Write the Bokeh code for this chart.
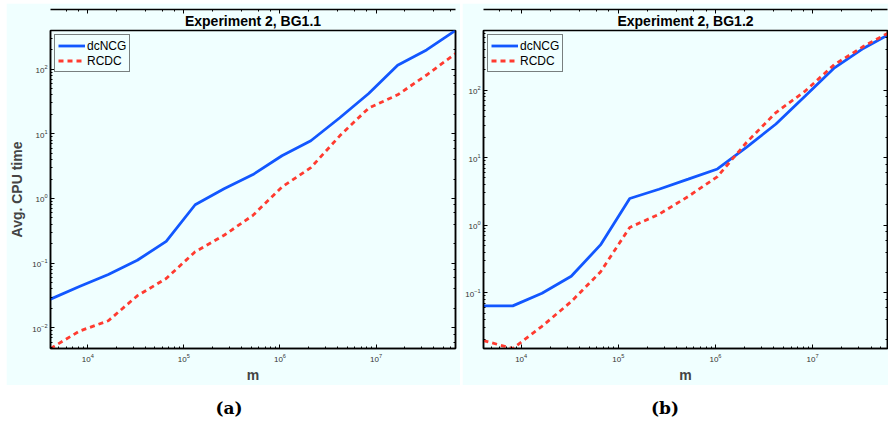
from bokeh.plotting import figure
from bokeh.models import (LogAxis, Legend, LegendItem, Spacer, Div, Range1d,
                          LogTicker, Title, CustomJSTickFormatter)
from bokeh.layouts import row, column
from bokeh.embed import file_html
from bokeh.resources import INLINE

# ---------------- data ----------------
m = [2 ** k for k in range(12, 27)]

dcncg_a = [0.0278, 0.0435, 0.067, 0.111, 0.217, 0.80, 1.41, 2.34, 4.57, 7.8,
           17.7, 41.9, 115, 198, 395]
rcdc_a = [0.0048, 0.0089, 0.0129, 0.0313, 0.058, 0.15, 0.27, 0.55, 1.5, 3.0,
          9.3, 25, 40, 81, 174]

dcncg_b = [0.0637, 0.0637, 0.098, 0.175, 0.51, 2.48, 3.4, 4.8, 6.8, 14.3,
           31.5, 81.7, 214, 418, 720]
rcdc_b = [0.0195, 0.0149, 0.0318, 0.0738, 0.203, 0.925, 1.45, 2.66, 5.25,
          16.9, 46.6, 97, 240, 446, 764]

titles = ["Experiment 2, BG1.1", "Experiment 2, BG1.2"]
series_names = ["dcNCG", "RCDC"]
captions = ["(a)", "(b)"]

BG = "#F0FFFF"
BLUE = "#1257FF"
RED = "#FF3B30"
FONT = "Liberation Sans"


def style_axis(ax, labels=True):
    ax.axis_line_color = "black"
    ax.axis_line_width = 1.5
    ax.major_tick_in = 4
    ax.major_tick_out = 0
    ax.minor_tick_in = 2
    ax.minor_tick_out = 0
    ax.major_tick_line_color = "black"
    ax.minor_tick_line_color = "black"
    ax.major_label_text_font = FONT
    ax.major_label_text_color = "#333333"
    if labels:
        ax.major_label_text_font_size = "8px"
        ax.major_label_standoff = 3
    else:
        ax.formatter = CustomJSTickFormatter(code="return ''")
        ax.major_label_text_font_size = "1px"
        ax.major_label_standoff = 0


def make_panel(title, blue, red, width, x_end, min_left, min_right, ylabel):
    ys = blue + red
    p = figure(width=width, height=382, x_axis_type="log", y_axis_type="log",
               x_range=Range1d(m[0], x_end),
               y_range=Range1d(min(ys), max(ys)),
               output_backend="svg", toolbar_location=None,
               background_fill_color=BG, border_fill_color=BG,
               min_border_left=min_left, min_border_right=min_right,
               min_border_top=27, min_border_bottom=34, margin=0)
    p.grid.visible = False
    p.outline_line_color = "black"
    p.outline_line_width = 1.5

    t = Title(text=title, align="center", text_font=FONT,
              text_font_size="14px", text_font_style="bold",
              text_color="black", standoff=3)
    p.add_layout(t, "above")

    style_axis(p.xaxis[0])
    style_axis(p.yaxis[0])
    p.xaxis.axis_label = "m"
    p.xaxis.axis_label_text_font = FONT
    p.xaxis.axis_label_text_font_size = "14px"
    p.xaxis.axis_label_text_font_style = "bold"
    p.xaxis.axis_label_standoff = 2
    p.xaxis.major_label_standoff = 5
    if ylabel:
        p.yaxis.axis_label = ylabel
        p.yaxis.axis_label_text_font = FONT
        p.yaxis.axis_label_text_font_size = "14px"
        p.yaxis.axis_label_text_font_style = "bold"
        p.yaxis.axis_label_standoff = 4

    top = LogAxis(ticker=LogTicker())
    right = LogAxis(ticker=LogTicker())
    style_axis(top, labels=False)
    style_axis(right, labels=False)
    p.add_layout(top, "above")
    p.add_layout(right, "right")

    r1 = p.line(m, blue, line_color=BLUE, line_width=2.8)
    r2 = p.line(m, red, line_color=RED, line_width=2.8, line_dash="5 4")

    leg = Legend(items=[LegendItem(label=series_names[0], renderers=[r1]),
                        LegendItem(label=series_names[1], renderers=[r2])],
                 location="top_left", margin=4, padding=3, spacing=0,
                 glyph_width=27, glyph_height=15, label_standoff=2,
                 label_height=15,
                 label_text_font=FONT, label_text_font_size="12px",
                 label_text_color="black",
                 border_line_color="black", border_line_width=1.5,
                 background_fill_color=BG, background_fill_alpha=1.0)
    p.add_layout(leg, "center")
    return p


p1 = make_panel(titles[0], dcncg_a, rcdc_a, 454, m[-1], 42, 5, "Avg. CPU time")
p2 = make_panel(titles[1], dcncg_b, rcdc_b, 426, 5.9e7, 19, 1, None)

cap_style = {"font-family": "'DejaVu Serif', serif", "font-weight": "bold",
             "font-size": "17px", "text-align": "center", "color": "black",
             "width": "100%"}
c1 = Div(text=captions[0], width=80, height=30, margin=0, styles=cap_style)
c2 = Div(text=captions[1], width=80, height=30, margin=0, styles=cap_style)

top_row = row(Spacer(width=6, height=382, margin=0), p1,
              Spacer(width=2, height=382, margin=0), p2, margin=0, spacing=0)
cap_row = row(Spacer(width=189, height=30, margin=0), c1,
              Spacer(width=356, height=30, margin=0), c2, margin=0, spacing=0)
layout = column(Spacer(width=880, height=3, margin=0), top_row,
                Spacer(width=880, height=11, margin=0), cap_row,
                margin=0, spacing=0)

open("out.html", "w").write(file_html(layout, INLINE))
